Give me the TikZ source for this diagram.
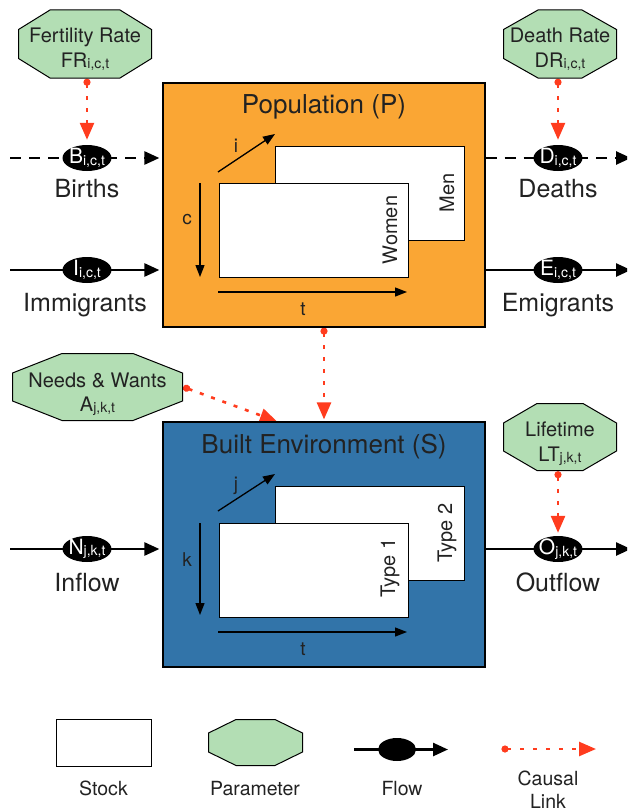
\documentclass[tikz,border=0pt]{standalone}
\usepackage{fontspec}
\setmainfont{TeX Gyre Heros}
\usetikzlibrary{arrows.meta,shapes.geometric,backgrounds}

\definecolor{popfill}{RGB}{250,166,52}
\definecolor{envfill}{RGB}{50,116,169}
\definecolor{parfill}{RGB}{179,222,180}
\definecolor{causal}{RGB}{255,60,30}
\definecolor{ink}{RGB}{34,34,34}

\newcommand\fsize[1]{\fontsize{#1}{#1}\selectfont}
% symbol with lowered small index, inside flows and parameters
\newcommand\flowsym[2]{{\fsize{21}#1}{\fsize{14}\raisebox{-1.5pt}{#2}}}
\newcommand\parsym[2]{#1{\fsize{14}\raisebox{-1.5pt}{#2}}}

\tikzset{
  bigbox/.style={draw=black, line width=1.2pt, minimum width=322pt, minimum height=244pt, inner sep=0pt},
  stockbox/.style={draw=black, line width=1pt, fill=white, minimum width=189pt, minimum height=94pt, inner sep=0pt},
  boxtitle/.style={anchor=base, font=\fsize{26}, text=ink, inner sep=0pt},
  stocklabel/.style={rotate=90, font=\fsize{20}, text=ink, inner sep=0pt},
  dimarrow/.style={line width=1.3pt, -{Triangle[length=12pt,width=9pt]}},
  dimlabel/.style={font=\fsize{19}, text=ink, inner sep=0pt},
  flownode/.style={ellipse, fill=black, minimum width=49pt, minimum height=26pt, inner sep=-6pt, text=white},
  flowline/.style={line width=2.5pt, black},
  flowarrow/.style={flowline, -{Triangle[length=15pt,width=13pt]}},
  flowdash/.style={dash pattern=on 11pt off 8pt},
  flowlabel/.style={anchor=base, font=\fsize{25}, text=ink, inner sep=0pt},
  partext/.style={anchor=base, font=\fsize{20}, text=ink, inner sep=0pt},
  legendlabel/.style={anchor=base, font=\fsize{19.5}, text=ink, inner sep=0pt},
  causallink/.style={causal, line width=2.6pt, dash pattern=on 4pt off 8pt,
    {Circle[length=7pt]}-{Triangle[length=17pt,width=14pt]}},
  % octagon: width, height, horizontal cut, vertical cut
  param/.style n args={4}{rectangle, minimum width=#1, minimum height=#2, inner sep=0pt,
    path picture={
      \filldraw[fill=parfill, draw=black, line width=1pt]
        ([xshift=#3, yshift=-0.5pt]path picture bounding box.north west)
        -- ([xshift=-#3, yshift=-0.5pt]path picture bounding box.north east)
        -- ([xshift=-0.5pt, yshift=-#4]path picture bounding box.north east)
        -- ([xshift=-0.5pt, yshift=#4]path picture bounding box.south east)
        -- ([xshift=-#3, yshift=0.5pt]path picture bounding box.south east)
        -- ([xshift=#3, yshift=0.5pt]path picture bounding box.south west)
        -- ([xshift=0.5pt, yshift=#4]path picture bounding box.south west)
        -- ([xshift=0.5pt, yshift=-#4]path picture bounding box.north west)
        -- cycle;
    }},
}

\begin{document}
\begin{tikzpicture}[x=1pt, y=-1pt]
\useasboundingbox (0,0) rectangle (627,808);
\clip (0,0) rectangle (627,808);

% ---------- Population stock ----------
\node[bigbox, fill=popfill] (P) at (324,205) {};
\node[boxtitle] (Ptitle) at (324,113) {Population (P)};
\node[stockbox] (Men) at (370,193) {};
\node[stockbox] (Women) at (313.5,230) {};
\node[stocklabel] (MenT) at (447,193) {Men};
\node[stocklabel] (WomenT) at (390,230) {Women};
\coordinate (Pi0) at (218,172); \coordinate (Pi1) at (275,134);
\coordinate (Pc0) at (200,183); \coordinate (Pc1) at (200,277);
\coordinate (Pt0) at (218,292); \coordinate (Pt1) at (407,292);
\draw[dimarrow] (Pi0) -- (Pi1);
\draw[dimarrow] (Pc0) -- (Pc1);
\draw[dimarrow] (Pt0) -- (Pt1);
\node[dimlabel] (Pi) at (236,146) {i};
\node[dimlabel] (Pc) at (187,220) {c};
\node[dimlabel] (Pt) at (303,309) {t};

% ---------- Built environment stock ----------
\node[bigbox, fill=envfill, minimum height=245pt] (S) at (324,544.5) {};
\node[boxtitle] (Stitle) at (324,453) {Built Environment (S)};
\node[stockbox] (T2) at (370,533) {};
\node[stockbox] (T1) at (313.5,570) {};
\node[stocklabel] (T2T) at (447,533) {Type 2};
\node[stocklabel] (T1T) at (390,568) {Type 1};
\coordinate (Sj0) at (218,511); \coordinate (Sj1) at (275,474);
\coordinate (Sk0) at (200,523); \coordinate (Sk1) at (200,615);
\coordinate (St0) at (218,632); \coordinate (St1) at (407,632);
\draw[dimarrow] (Sj0) -- (Sj1);
\draw[dimarrow] (Sk0) -- (Sk1);
\draw[dimarrow] (St0) -- (St1);
\node[dimlabel] (Sj) at (236,486) {j};
\node[dimlabel] (Sk) at (187,560) {k};
\node[dimlabel] (St) at (303,649) {t};

% ---------- parameters ----------
\node[param={134pt}{69pt}{32pt}{20pt}] (FR) at (85,44) {};
\node[partext] (FRa) at (85,43) {Fertility Rate};
\node[partext] (FRb) at (85,67) {\parsym{FR}{i,c,t}};

\node[param={114pt}{69pt}{35pt}{20pt}] (DR) at (560,44) {};
\node[partext] (DRa) at (560,43) {Death Rate};
\node[partext] (DRb) at (560,67) {\parsym{DR}{i,c,t}};

\node[param={171pt}{68pt}{50pt}{20pt}] (NW) at (97.5,387) {};
\node[partext] (NWa) at (97.5,387) {Needs \& Wants};
\node[partext] (NWb) at (97.5,411) {\parsym{A}{j,k,t}};

\node[param={114pt}{68pt}{34pt}{20pt}] (LT) at (560,437) {};
\node[partext] (LTa) at (560,436) {Lifetime};
\node[partext] (LTb) at (560,461) {\parsym{LT}{j,k,t}};

% ---------- flows ----------
\coordinate (Bin) at (10,158);
\coordinate (Iin) at (10,270);
\coordinate (Nin) at (10,549);
\coordinate (Dout) at (631,158);
\coordinate (Eout) at (631,270);
\coordinate (Oout) at (631,549);

\draw[flowline, flowdash] (Bin) -- (87,158);
\draw[flowarrow, flowdash, shorten >=3pt] (87,158) -- (Bin -| P.west);
\draw[flowline] (Iin) -- (87,270);
\draw[flowarrow, shorten >=3pt] (87,270) -- (Iin -| P.west);
\draw[flowline, flowdash] (Dout -| P.east) -- (558,158);
\draw[flowarrow, flowdash] (558,158) -- (Dout);
\draw[flowline] (Eout -| P.east) -- (558,270);
\draw[flowarrow] (558,270) -- (Eout);
\draw[flowline] (Nin) -- (87,549);
\draw[flowarrow, shorten >=3pt] (87,549) -- (Nin -| S.west);
\draw[flowline] (Oout -| S.east) -- (558,549);
\draw[flowarrow] (558,549) -- (Oout);

\node[flownode] (B) at (87,158) {\flowsym{B}{i,c,t}};
\node[flownode] (I) at (87,270) {\flowsym{I}{i,c,t}};
\node[flownode] (D) at (558,158) {\flowsym{D}{i,c,t}};
\node[flownode] (E) at (558,270) {\flowsym{E}{i,c,t}};
\node[flownode] (N) at (87,549) {\flowsym{N}{j,k,t}};
\node[flownode] (O) at (558,549) {\flowsym{O}{j,k,t}};

\node[flowlabel] (Bl) at (87,197) {Births};
\node[flowlabel] (Il) at (85,311) {Immigrants};
\node[flowlabel] (Dl) at (558,197) {Deaths};
\node[flowlabel] (El) at (558,311) {Emigrants};
\node[flowlabel] (Nl) at (87,591) {Inflow};
\node[flowlabel] (Ol) at (558,591) {Outflow};

% ---------- causal links ----------
\begin{pgfonlayer}{background}
\draw[causallink, shorten >=5pt] (B |- FR.south) -- (B.north);
\draw[causallink, shorten >=5pt] (D |- DR.south) -- (D.north);
\draw[causallink, shorten >=3pt] (O |- LT.south) -- (O.north);
\draw[causallink, shorten >=2pt] (P.south) -- (S.north);
\draw[causallink] (NW.east) -- ([xshift=-47pt]S.north);
\end{pgfonlayer}

% ---------- legend ----------
\node[stockbox, minimum width=95pt, minimum height=47pt] (Lstock) at (103.5,742.5) {};
\node[param={95pt}{47pt}{28pt}{14pt}] (Lparam) at (255.5,742.5) {};
\coordinate (Lf0) at (354,749.5);
\coordinate (Lf1) at (448,749.5);
\draw[flowline] (Lf0) -- (397,749.5);
\draw[flowarrow] (397,749.5) -- (Lf1);
\node[flownode, minimum width=38pt, minimum height=23pt] (Lflow) at (397,749.5) {};
\coordinate (Lc0) at (501.5,749);
\coordinate (Lc1) at (596,749);
\draw[causallink, dash pattern=on 4pt off 9pt] (Lc0) -- (Lc1);

\node[legendlabel] (LstockT) at (103.5,795) {Stock};
\node[legendlabel] (LparamT) at (255,795) {Parameter};
\node[legendlabel] (LflowT) at (402,795) {Flow};
\node[legendlabel] (LcausalT) at (548,785) {Causal};
\node[legendlabel] (LlinkT) at (548,808) {Link};
\end{tikzpicture}
\end{document}
